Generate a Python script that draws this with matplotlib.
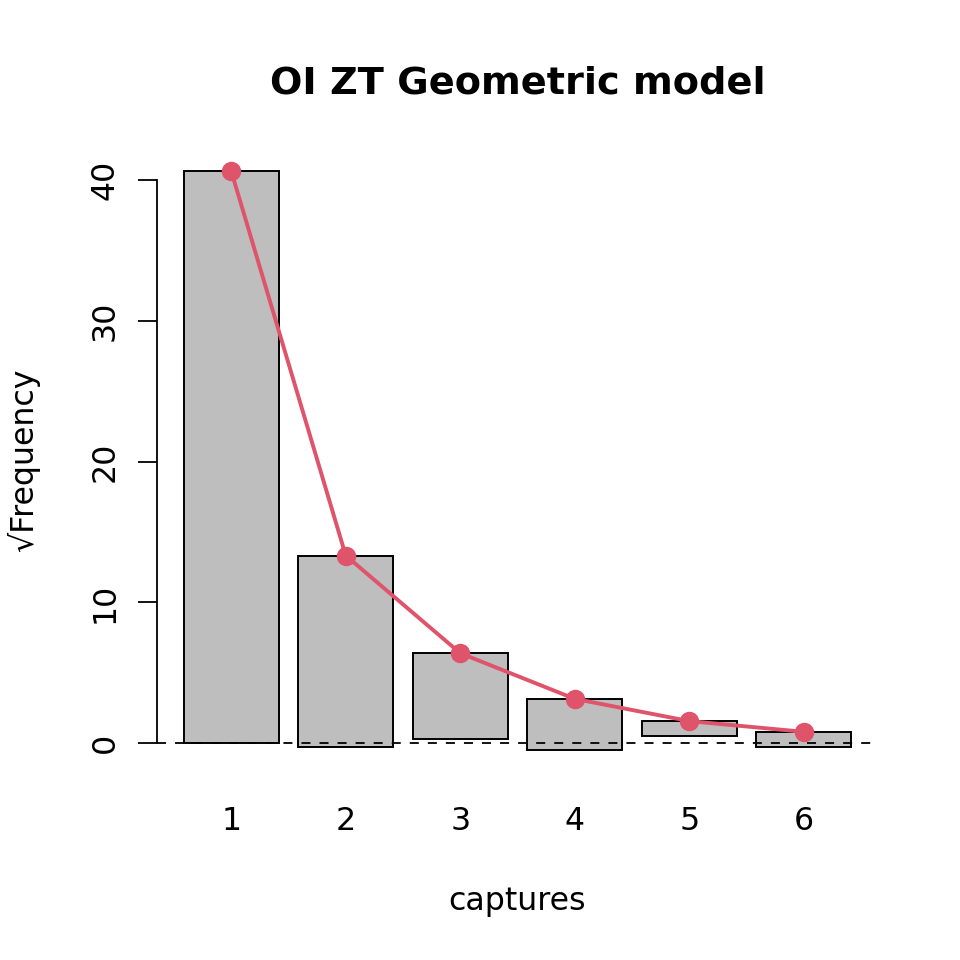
import matplotlib
matplotlib.use("Agg")
import matplotlib.pyplot as plt
import numpy as np

# hanging rootogram (sqrt scale)
captures = [1, 2, 3, 4, 5, 6]
expected_sqrt = [40.61, 13.33, 6.40, 3.16, 1.58, 0.82]
observed_sqrt = [40.58, 13.56, 6.08, 3.62, 1.03, 1.05]

bar_width = 0.83
red = "#DF536B"
grey = "#BEBEBE"
fs = 22.8

x = np.array(captures, dtype=float)
top = np.array(expected_sqrt)
bottom = top - np.array(observed_sqrt)

fig = plt.figure(figsize=(9.6, 9.6), dpi=100)
ax = fig.add_axes([157 / 960, 1 - 773 / 960, (878 - 157) / 960, (773 - 148) / 960])

ax.bar(x, observed_sqrt, bottom=bottom, width=bar_width, color=grey,
       edgecolor="black", linewidth=1.4, zorder=2)
ax.axhline(0, color="black", linestyle=(0, (5, 5)), linewidth=1.3, zorder=3)
ax.plot(x, top, color=red, linewidth=2.8, marker="o", markersize=13, zorder=4)

# R-style 4% padding around the data
x0, x1 = x.min() - bar_width / 2, x.max() + bar_width / 2
y0, y1 = min(bottom.min(), 0), top.max()
ax.set_xlim(x0 - 0.04 * (x1 - x0), x1 + 0.04 * (x1 - x0))
ax.set_ylim(y0 - 0.04 * (y1 - y0), y1 + 0.04 * (y1 - y0))

for side in ["top", "right", "bottom"]:
    ax.spines[side].set_visible(False)
ax.spines["left"].set_bounds(0, 40)
ax.spines["left"].set_linewidth(1.3)

yt = [0, 10, 20, 30, 40]
ax.set_yticks(yt)
ax.set_yticklabels([str(v) for v in yt], rotation=90, va="center", fontsize=fs)
ax.tick_params(axis="y", length=14, width=1.3, pad=12)
ax.set_xticks(x)
ax.set_xticklabels([str(c) for c in captures], fontsize=fs)
ax.tick_params(axis="x", length=0, pad=24)

ax.set_xlabel("captures", fontsize=fs, labelpad=35)
ax.set_ylabel("\u221aFrequency", fontsize=fs, labelpad=36)
ax.set_title("OI ZT Geometric model", fontsize=27.5, fontweight="bold", pad=39)

fig.savefig("out.png", dpi=100)
